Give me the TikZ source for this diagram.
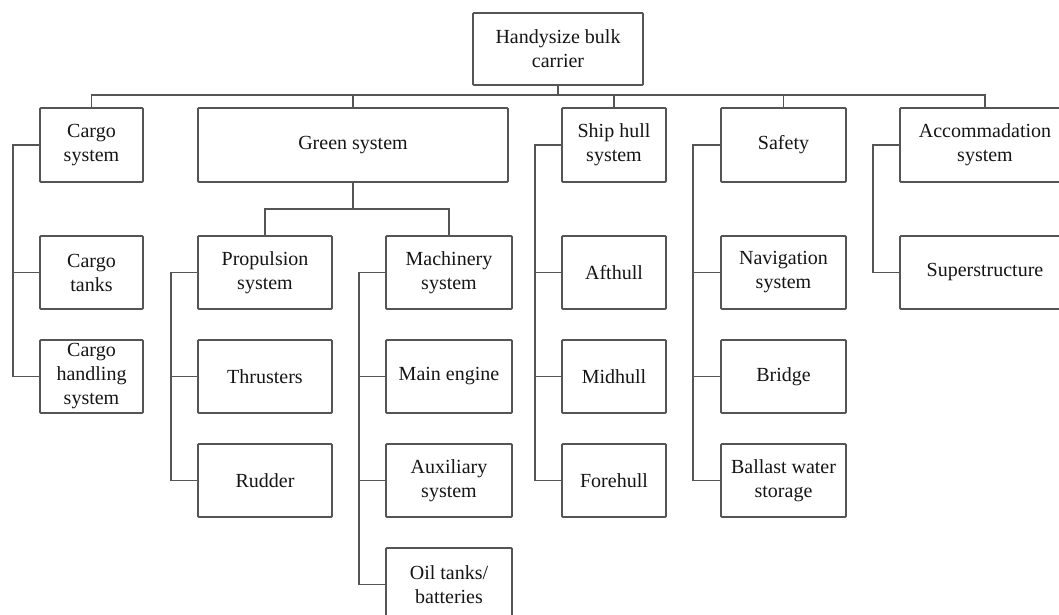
\documentclass[tikz,border=0pt]{standalone}
\usepackage{fontspec}
\setmainfont{Liberation Serif}
\definecolor{linec}{HTML}{555555}
\definecolor{textc}{HTML}{151515}
\begin{document}
\begin{tikzpicture}[x=1pt,y=-1pt,
  box/.style={draw=linec, line width=1.8pt, rounded corners=1pt, inner sep=0pt, align=center,
    text=textc, font=\fontsize{20}{24}\selectfont},
  conn/.style={draw=linec, line width=1.8pt}]
\useasboundingbox (0,0) rectangle (1059,615);
\fill[white] (0,0) rectangle (1059,615);
\clip (0,0) rectangle (1059,615);
% root
\node[box, minimum width=170pt, minimum height=72pt] (root) at (558,49) {Handysize bulk\\carrier};
% level 1
\node[box, minimum width=103pt, minimum height=74pt] (cs) at (91.5,145) {Cargo\\system};
\node[box, minimum width=310pt, minimum height=74pt] (gs) at (353,145) {Green system};
\node[box, minimum width=104pt, minimum height=74pt] (sh) at (614,145) {Ship hull\\system};
\node[box, minimum width=125pt, minimum height=74pt] (sf) at (783.5,145) {Safety};
\node[box, minimum width=170pt, minimum height=74pt] (ac) at (985,145) {Accommadation\\system};
% cargo column
\node[box, minimum width=103pt, minimum height=73pt] (ct) at (91.5,272.5) {Cargo\\tanks};
\node[box, minimum width=103pt, minimum height=73pt] (ch) at (91.5,376.5) {Cargo\\handling\\system};
% green sub
\node[box, minimum width=134pt, minimum height=73pt] (ps) at (265,272.5) {Propulsion\\system};
\node[box, minimum width=134pt, minimum height=73pt] (th) at (265,376.5) {Thrusters};
\node[box, minimum width=134pt, minimum height=73pt] (ru) at (265,480.5) {Rudder};
\node[box, minimum width=126pt, minimum height=73pt] (ms) at (449,272.5) {Machinery\\system};
\node[box, minimum width=126pt, minimum height=73pt] (me) at (449,376.5) {Main engine};
\node[box, minimum width=126pt, minimum height=73pt] (au) at (449,480.5) {Auxiliary\\system};
\node[box, minimum width=126pt, minimum height=73pt] (ot) at (449,584.5) {Oil tanks/\\batteries};
% ship hull column
\node[box, minimum width=104pt, minimum height=73pt] (ah) at (614,272.5) {Afthull};
\node[box, minimum width=104pt, minimum height=73pt] (mh) at (614,376.5) {Midhull};
\node[box, minimum width=104pt, minimum height=73pt] (fh) at (614,480.5) {Forehull};
% safety column
\node[box, minimum width=125pt, minimum height=73pt] (nv) at (783.5,272.5) {Navigation\\system};
\node[box, minimum width=125pt, minimum height=73pt] (br) at (783.5,376.5) {Bridge};
\node[box, minimum width=125pt, minimum height=73pt] (bw) at (783.5,480.5) {Ballast water\\storage};
% accommodation column
\node[box, minimum width=170pt, minimum height=73pt] (ss) at (985,272.5) {Superstructure};
% bus
\coordinate (bus) at (558,95);
\draw[conn] (root.south) -- (bus);
\draw[conn] (cs.north) |- (bus) -| (ac.north);
\draw[conn] (gs.north) -- (gs.north |- bus);
\draw[conn] (sh.north) -- (sh.north |- bus);
\draw[conn] (sf.north) -- (sf.north |- bus);
% green branch
\coordinate (gb) at (353,209);
\draw[conn] (gs.south) -- (gb);
\draw[conn] (ps.north) |- (gb) -| (ms.north);
% spines
\coordinate (csp) at (13,145);
\draw[conn] (cs.west) -- (csp) |- (ch.west);
\draw[conn] (csp |- ct.west) -- (ct.west);
\coordinate (psp) at (171,272.5);
\draw[conn] (ps.west) -- (psp) |- (ru.west);
\draw[conn] (psp |- th.west) -- (th.west);
\coordinate (msp) at (359,272.5);
\draw[conn] (ms.west) -- (msp) |- (ot.west);
\draw[conn] (msp |- me.west) -- (me.west);
\draw[conn] (msp |- au.west) -- (au.west);
\coordinate (shp) at (535,145);
\draw[conn] (sh.west) -- (shp) |- (fh.west);
\draw[conn] (shp |- ah.west) -- (ah.west);
\draw[conn] (shp |- mh.west) -- (mh.west);
\coordinate (sfp) at (693,145);
\draw[conn] (sf.west) -- (sfp) |- (bw.west);
\draw[conn] (sfp |- nv.west) -- (nv.west);
\draw[conn] (sfp |- br.west) -- (br.west);
\coordinate (acp) at (873,145);
\draw[conn] (ac.west) -- (acp) |- (ss.west);
\end{tikzpicture}
\end{document}
